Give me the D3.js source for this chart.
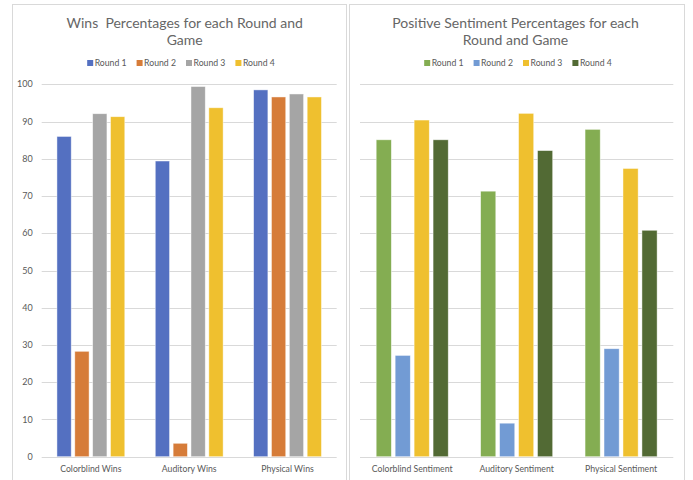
<!DOCTYPE html>
<html>
<head>
<meta charset="utf-8">
<script src="https://cdn.jsdelivr.net/npm/d3@7"></script>
<style>
	body { margin: 0; background: #fff; font-family: Lato, "Open Sans", sans-serif; }
	svg { display: block; }
</style>
</head>
<body>
<script>
const rounds = ['Round 1', 'Round 2', 'Round 3', 'Round 4'];
const yTicks = [0, 10, 20, 30, 40, 50, 60, 70, 80, 90, 100];

const winsCategories = ['Colorblind Wins', 'Auditory Wins', 'Physical Wins'];
const winsRound1 = [86.0, 79.4, 98.5];
const winsRound2 = [28.3, 3.6, 96.6];
const winsRound3 = [92.1, 99.4, 97.4];
const winsRound4 = [91.3, 93.7, 96.6];

const sentCategories = ['Colorblind Sentiment', 'Auditory Sentiment', 'Physical Sentiment'];
const sentRound1 = [85.1, 71.3, 87.9];
const sentRound2 = [27.2, 9.0, 29.0];
const sentRound3 = [90.4, 92.2, 77.4];
const sentRound4 = [85.1, 82.2, 60.8];

const winsColors = ['#5470c1', '#d67c39', '#a5a5a5', '#efc02f'];
const sentColors = ['#84ad52', '#729bd4', '#efc02f', '#526a34'];

const width = 693, height = 480;

const svg = d3.select('body')
	.append('svg')
	.attr('width', width)
	.attr('height', height);

const yScale = d3.scaleLinear()
	.domain([0, 100])
	.range([456.7, 84.3]);

function drawChart(opts) {
	const g = svg.append('g');

	// panel border
	g.append('rect')
		.attr('x', opts.panel[0] + 0.5)
		.attr('y', 4.5)
		.attr('width', opts.panel[1] - opts.panel[0])
		.attr('height', 500)
		.attr('fill', '#fff')
		.attr('stroke', '#d9d9d9');

	const xScale = d3.scaleBand()
		.domain(opts.categories)
		.range(opts.range)
		.paddingInner(0.31)
		.paddingOuter(0.155);

	const xInner = d3.scaleBand()
		.domain(rounds)
		.range([0, xScale.bandwidth()])
		.paddingInner(0.2);

	// gridlines
	g.append('g')
		.selectAll('line')
		.data(yTicks)
		.enter().append('line')
		.attr('x1', opts.range[0])
		.attr('x2', opts.range[1])
		.attr('y1', d => Math.round(yScale(d)) + 0.5)
		.attr('y2', d => Math.round(yScale(d)) + 0.5)
		.attr('stroke', '#d9d9d9')
		.attr('stroke-width', 1);

	if (opts.showYLabels) {
		g.append('g')
			.selectAll('text')
			.data(yTicks)
			.enter().append('text')
			.attr('x', opts.range[0] - 9)
			.attr('y', d => yScale(d))
			.attr('dy', '0.35em')
			.attr('text-anchor', 'end')
			.attr('fill', '#595959')
			.style('font-size', '9px')
			.text(d => d);
	}

	const rows = opts.categories.map((c, i) => ({
		category: c,
		values: opts.series.map(s => s[i])
	}));

	const groups = g.selectAll('.group')
		.data(rows)
		.enter().append('g')
		.attr('class', 'group')
		.attr('transform', d => `translate(${xScale(d.category)},0)`);

	groups.selectAll('rect')
		.data(d => d.values.map((v, i) => ({ round: rounds[i], value: v, idx: i })))
		.enter().append('rect')
		.attr('x', d => xInner(d.round))
		.attr('width', xInner.bandwidth())
		.attr('y', d => yScale(d.value))
		.attr('height', d => yScale(0) - yScale(d.value))
		.attr('fill', d => opts.colors[d.idx])
		.attr('stroke', '#fff')
		.attr('stroke-opacity', 0.6)
		.attr('stroke-width', 0.75);

	// category labels
	g.append('g')
		.selectAll('text')
		.data(opts.categories)
		.enter().append('text')
		.attr('x', d => xScale(d) + xScale.bandwidth() / 2)
		.attr('y', 472)
		.attr('text-anchor', 'middle')
		.attr('fill', '#595959')
		.style('font-size', '8.7px')
		.text(d => d);

	// title
	const title = g.append('text')
		.attr('text-anchor', 'middle')
		.attr('fill', '#666')
		.style('font-size', '14px')
		.style('white-space', 'pre');
	opts.title.forEach((line, i) => {
		title.append('tspan')
			.attr('x', opts.titleX)
			.attr('y', 28 + i * 17)
			.text(line);
	});

	// legend
	const legend = g.append('g');
	let offset = 0;
	rounds.forEach((r, i) => {
		const item = legend.append('g').attr('transform', `translate(${offset},0)`);
		item.append('rect')
			.attr('x', 0)
			.attr('y', 60)
			.attr('width', 6)
			.attr('height', 6)
			.attr('fill', opts.colors[i]);
		const t = item.append('text')
			.attr('x', 7.5)
			.attr('y', 66)
			.attr('fill', '#595959')
			.style('font-size', '8.7px')
			.text(r);
		offset += 7.5 + t.node().getComputedTextLength() + 10;
	});
	const legendWidth = offset - 10;
	legend.attr('transform', `translate(${opts.legendX - legendWidth / 2},0)`);
}

drawChart({
	panel: [12, 346],
	range: [41.7, 336.7],
	categories: winsCategories,
	series: [winsRound1, winsRound2, winsRound3, winsRound4],
	colors: winsColors,
	showYLabels: true,
	title: ['Wins  Percentages for each Round and', 'Game'],
	titleX: 184.7,
	legendX: 181
});

drawChart({
	panel: [349, 684],
	range: [360, 673.3],
	categories: sentCategories,
	series: [sentRound1, sentRound2, sentRound3, sentRound4],
	colors: sentColors,
	showYLabels: false,
	title: ['Positive Sentiment Percentages for each', 'Round and Game'],
	titleX: 515.5,
	legendX: 518
});
</script>
</body>
</html>
